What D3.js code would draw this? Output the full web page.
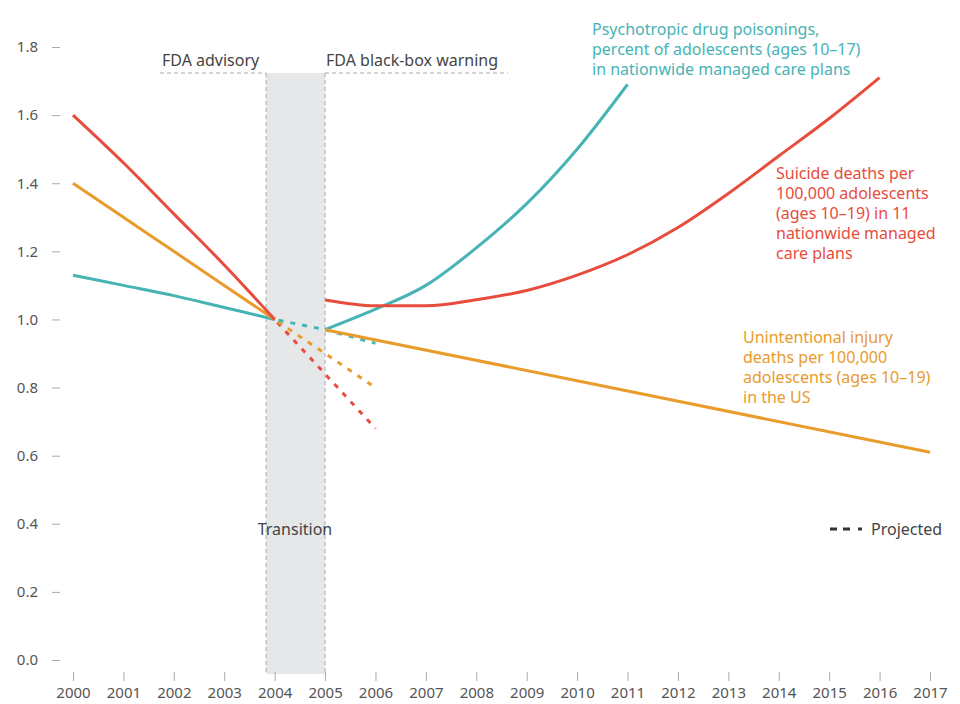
<!DOCTYPE html>
<html><head><meta charset="utf-8">
<script src="https://cdn.jsdelivr.net/npm/d3@7"></script>
<style>body{margin:0;background:#fff;} svg{display:block;} text{font-family:"Noto Sans",sans-serif;}</style>
</head><body><svg id="c" width="960" height="704"></svg>
<script>
const yearTicks = d3.range(2000, 2018);
const yTicks = [0, 0.2, 0.4, 0.6, 0.8, 1.0, 1.2, 1.4, 1.6, 1.8];

const preYears = [2000, 2001, 2002, 2003, 2004];
const suicidePre = [1.60, 1.46, 1.31, 1.16, 1.0];
const injuryPre = [1.40, 1.30, 1.20, 1.10, 1.0];
const drugPre = [1.13, 1.10, 1.07, 1.035, 1.0];

const projYears = [2004, 2005, 2006];
const suicideProj = [1.0, 0.84, 0.68];
const injuryProj = [1.0, 0.90, 0.80];
const drugProj = [1.0, 0.97, 0.93];

const suicidePostYears = [2005, 2006, 2007, 2008, 2009, 2010, 2011, 2012, 2013, 2014, 2015, 2016];
const suicidePost = [1.057, 1.04, 1.04, 1.058, 1.085, 1.13, 1.19, 1.27, 1.37, 1.48, 1.59, 1.71];
const drugPostYears = [2005, 2006, 2007, 2008, 2009, 2010, 2011];
const drugPost = [0.97, 1.03, 1.10, 1.21, 1.34, 1.50, 1.69];
const injuryPostYears = [2005, 2017];
const injuryPost = [0.97, 0.61];

const C = {red: "#e84c3d", orange: "#e99b2b", teal: "#47b3b5", grey: "#555", tick: "#aaa"};

const svg = d3.select("#c");
const x = d3.scaleLinear().domain([2000, 2017]).range([73, 930]);
const y = d3.scaleLinear().domain([0, 1.8]).range([660, 47]);

// transition band
const bandStart = 2003.83, bandEnd = 2005;
svg.append("rect").attr("x", x(bandStart)).attr("y", 73).attr("width", x(bandEnd) - x(bandStart)).attr("height", 674 - 73).attr("fill", "#e6e7e9");
[bandStart, bandEnd].forEach(v => svg.append("line").attr("x1", x(v)).attr("x2", x(v)).attr("y1", 73).attr("y2", 674)
  .attr("stroke", "#aaa").attr("stroke-width", 1).attr("stroke-dasharray", "4,3"));
svg.append("line").attr("x1", 160).attr("x2", x(bandStart)).attr("y1", 73).attr("y2", 73).attr("stroke", "#aaa").attr("stroke-dasharray", "4,3");
svg.append("line").attr("x1", x(bandEnd)).attr("x2", 508).attr("y1", 73).attr("y2", 73).attr("stroke", "#aaa").attr("stroke-dasharray", "4,3");
svg.append("text").attr("x", 162).attr("y", 66).attr("fill", "#444").attr("font-size", 16).text("FDA advisory");
svg.append("text").attr("x", 326).attr("y", 66).attr("fill", "#444").attr("font-size", 16).text("FDA black-box warning");
svg.append("text").attr("x", 295).attr("y", 535).attr("text-anchor", "middle").attr("fill", "#444").attr("font-size", 16).text("Transition");

// axes
const yAxis = d3.axisLeft(y).tickValues(yTicks).tickFormat(d3.format(".1f")).tickSize(8).tickPadding(14);
const gy = svg.append("g").attr("transform", "translate(60,0)").call(yAxis);
gy.select(".domain").remove();
gy.selectAll("line").attr("stroke", C.tick);
gy.selectAll("text").attr("fill", C.grey).attr("font-size", 15).attr("font-family", "Noto Sans");

const xAxis = d3.axisBottom(x).tickValues(yearTicks).tickFormat(d3.format("d")).tickSize(9).tickPadding(6);
const gx = svg.append("g").attr("transform", "translate(0,672)").call(xAxis);
gx.select(".domain").remove();
gx.selectAll("line").attr("stroke", C.tick);
gx.selectAll("text").attr("fill", C.grey).attr("font-size", 15).attr("font-family", "Noto Sans");

// lines
const lineGen = d3.line().x(d => x(d[0])).y(d => y(d[1]));
const smooth = d3.line().x(d => x(d[0])).y(d => y(d[1])).curve(d3.curveMonotoneX);
const zip = (a, b) => a.map((v, i) => [v, b[i]]);

function draw(gen, data, color, dashed) {
  const p = svg.append("path").attr("d", gen(data)).attr("fill", "none").attr("stroke", color).attr("stroke-width", 3);
  if (dashed) p.attr("stroke-dasharray", "5,7").attr("stroke-dashoffset", -4);
}
draw(lineGen, zip(projYears, suicideProj), C.red, true);
draw(lineGen, zip(projYears, injuryProj), C.orange, true);
draw(lineGen, zip(projYears, drugProj), C.teal, true);
draw(smooth, zip(preYears, drugPre), C.teal);
draw(smooth, zip(preYears, injuryPre), C.orange);
draw(smooth, zip(preYears, suicidePre), C.red);
draw(smooth, zip(drugPostYears, drugPost), C.teal);
draw(smooth, zip(suicidePostYears, suicidePost), C.red);
draw(lineGen, zip(injuryPostYears, injuryPost), C.orange);

// labels
function label(lines, x0, y0, color) {
  const t = svg.append("text").attr("fill", color).attr("font-size", 16);
  lines.forEach((l, i) => t.append("tspan").attr("x", x0).attr("y", y0 + i * 20).text(l));
}
label(["Psychotropic drug poisonings,", "percent of adolescents (ages 10–17)", "in nationwide managed care plans"], 592, 35, C.teal);
label(["Suicide deaths per", "100,000 adolescents", "(ages 10–19) in 11", "nationwide managed", "care plans"], 776, 179, C.red);
label(["Unintentional injury", "deaths per 100,000", "adolescents (ages 10–19)", "in the US"], 743, 343, C.orange);

// projected legend
svg.append("line").attr("x1", 830).attr("x2", 863).attr("y1", 529).attr("y2", 529).attr("stroke", "#333").attr("stroke-width", 3).attr("stroke-dasharray", "7,6,7,8,4,100");
svg.append("text").attr("x", 871).attr("y", 535).attr("fill", "#444").attr("font-size", 16).text("Projected");
</script></body></html>
